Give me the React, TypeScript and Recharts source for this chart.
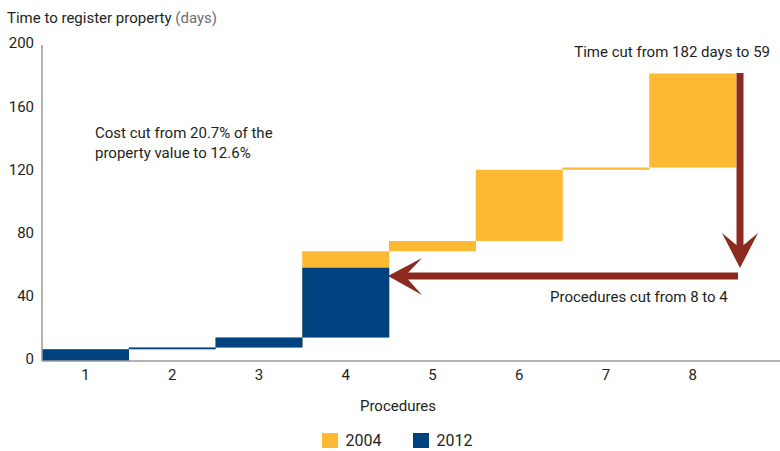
import { BarChart, Bar, XAxis, YAxis, Legend } from 'recharts';

const procedures = ['1', '2', '3', '4', '5', '6', '7', '8'];
// each step is a floating bar [from, to] in cumulative days
const steps2004: [number, number][] = [
  [0, 7.5], [7.5, 8.5], [8.5, 14.8], [14.8, 69.5],
  [69.5, 76], [76, 121], [121, 122.5], [122.5, 182],
];
const steps2012: ([number, number] | null)[] = [
  [0, 7.5], [7.5, 8.5], [8.5, 14.8], [14.8, 59],
  null, null, null, null,
];
const yTicks = [0, 40, 80, 120, 160, 200];

const ORANGE = '#FDB931';
const NAVY = '#00427F';
const ARROW = '#8B2A1E';
const TEXT = '#231F20';
const FONT = 'Roboto, sans-serif';

const data = procedures.map((p, i) => ({
  proc: p,
  y2004: steps2004[i],
  y2012: steps2012[i],
}));

function LegendBox({ payload }: any) {
  return (
    <div style={{ display: 'flex', justifyContent: 'center', paddingLeft: 14, fontFamily: FONT, fontSize: 16, color: TEXT }}>
      {(payload || []).map((item: any, i: number) => (
        <div key={i} style={{ display: 'flex', alignItems: 'center', marginRight: i === 0 ? 31 : 0 }}>
          <span style={{ display: 'inline-block', width: 16, height: 15, background: item.color, marginRight: 8 }} />
          <span>{item.value}</span>
        </div>
      ))}
    </div>
  );
}

export default function App() {
  return (
    <div style={{ position: 'absolute', left: 0, top: 0, width: 780, height: 451, fontFamily: FONT, background: '#fff' }}>
      <BarChart
        width={780}
        height={451}
        data={data}
        margin={{ top: 45, right: 0, left: 0, bottom: 35 }}
        barCategoryGap={0}
        style={{ fontFamily: FONT }}
      >
        <XAxis
          xAxisId="a"
          dataKey="proc"
          height={55}
          padding={{ left: 0, right: 44 }}
          tickLine={false}
          axisLine={{ stroke: '#9a9a9a', strokeWidth: 1.5 }}
          tick={{ fill: TEXT, fontSize: 15 }}
          label={{ value: 'Procedures', position: 'insideBottom', offset: 5, dx: -13, fill: TEXT, fontSize: 15 }}
        />
        <XAxis xAxisId="b" dataKey="proc" hide padding={{ left: 0, right: 44 }} />
        <YAxis
          domain={[0, 200]}
          ticks={yTicks}
          width={42}
          tickLine={false}
          axisLine={{ stroke: '#9a9a9a', strokeWidth: 1.5 }}
          tick={{ fill: TEXT, fontSize: 15, dy: -2 }}
        />
        <Legend
          layout="horizontal"
          verticalAlign="middle"
          align="center"
          wrapperStyle={{ left: 0, top: 431, width: 780 }}
          content={<LegendBox />}
        />
        <Bar xAxisId="a" dataKey="y2004" name="2004" fill={ORANGE} isAnimationActive={false} />
        <Bar xAxisId="b" dataKey="y2012" name="2012" fill={NAVY} isAnimationActive={false} />
      </BarChart>

      <div style={{ position: 'absolute', left: 7, top: 9, fontSize: 15, color: TEXT, whiteSpace: 'nowrap' }}>
        Time to register property <span style={{ color: '#6d6e71' }}>(days)</span>
      </div>
      <div style={{ position: 'absolute', left: 95, top: 123, fontSize: 15, lineHeight: '20px', color: TEXT }}>
        Cost cut from 20.7% of the<br />property value to 12.6%
      </div>
      <div style={{ position: 'absolute', right: 10, top: 43, fontSize: 15, color: TEXT, whiteSpace: 'nowrap' }}>
        Time cut from 182 days to 59
      </div>
      <div style={{ position: 'absolute', left: 550, top: 288, fontSize: 15, color: TEXT, whiteSpace: 'nowrap' }}>
        Procedures cut from 8 to 4
      </div>

      <svg width={780} height={451} style={{ position: 'absolute', left: 0, top: 0, pointerEvents: 'none' }}>
        <line x1={740} y1={73} x2={740} y2={252} stroke={ARROW} strokeWidth={7} />
        <polygon points="740,268 722,233 740,248 758,233" fill={ARROW} />
        <line x1={738} y1={276} x2={404} y2={276} stroke={ARROW} strokeWidth={7} />
        <polygon points="388,276 422,258 405,276 422,295" fill={ARROW} />
      </svg>
    </div>
  );
}
